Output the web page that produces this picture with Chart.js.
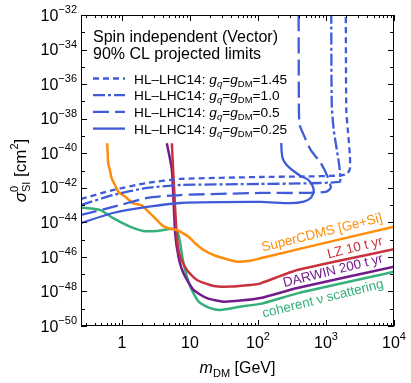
<!DOCTYPE html>
<html>
<head>
<meta charset="utf-8">
<script src="https://cdn.jsdelivr.net/npm/chart.js@4.4.1/dist/chart.umd.min.js"></script>
<style>
  html, body { margin: 0; padding: 0; background: #fff; }
  canvas { display: block; }
</style>
</head>
<body>
<canvas id="dm-chart" width="411" height="383"></canvas>
<script>
// ── Data (mass in GeV, log10 of cross section in cm^2) ──────────
const LHC145_MASS = [0.25, 0.736, 2.34, 7.18, 109, 424, 1650, 2024, 2244, 2244, 2094, 1989, 1955];
const LHC145_LOGSIG = [-42.65, -42.13, -41.72, -41.49, -41.375, -41.35, -41.29, -41.2, -40.91, -40.10, -38.66, -37.5, -32];

const LHC10_MASS = [0.25, 0.736, 2.34, 7.18, 109, 424, 1581, 1637, 1524, 1300, 1216, 1195];
const LHC10_LOGSIG = [-43.0, -42.42, -42.01, -41.84, -41.78, -41.75, -41.66, -41.43, -40.39, -38.66, -37.21, -32];

const LHC05_MASS = [0.25, 0.736, 2.34, 7.18, 109, 424, 991, 1175, 1062, 836, 596, 470, 410, 400, 396];
const LHC05_LOGSIG = [-43.57, -43.11, -42.59, -42.42, -42.30, -42.30, -42.24, -42.01, -41.38, -40.56, -39.81, -38.94, -38.37, -37.5, -32];

const LHC025_MASS = [0.25, 0.736, 2.34, 7.18, 109, 302, 470, 596, 660, 626, 528, 424, 334, 264, 230, 222, 220];
const LHC025_LOGSIG = [-44.04, -43.46, -43.11, -42.88, -42.82, -42.89, -42.80, -42.59, -42.24, -41.84, -41.49, -41.32, -41.03, -40.68, -40.28, -39.81, -39.41];

const CDMS_MASS = [0.607, 0.628, 0.665, 0.705, 0.835, 0.882, 1.107, 1.47, 1.95, 2.44, 3.07, 3.85, 4.82, 6.42, 7.18, 9.52, 11.9, 15.9, 22.3, 35.1, 49.3, 77.4, 109, 424, 10000];
const CDMS_LOGSIG = [-39.42, -40.58, -40.97, -41.45, -42.03, -42.23, -42.51, -42.90, -43.02, -43.38, -43.76, -44.15, -44.34, -44.44, -44.54, -44.83, -45.21, -45.60, -45.89, -46.14, -46.28, -46.22, -46.08, -45.52, -44.25];

const LZ_MASS = [5.42, 5.66, 6.42, 7.18, 9.02, 12.7, 22.3, 39.3, 77.4, 109, 379, 10000];
const LZ_LOGSIG = [-39.42, -40.97, -44.83, -45.99, -46.76, -47.34, -47.68, -47.72, -47.63, -47.53, -46.76, -45.56];

const DARWIN_MASS = [4.57, 5.42, 6.06, 6.78, 8.03, 11.3, 17.8, 31.3, 55.2, 109, 379, 10000];
const DARWIN_LOGSIG = [-39.42, -40.97, -44.63, -45.99, -46.95, -47.91, -48.39, -48.59, -48.53, -48.38, -47.8, -46.57];

const NU_MASS = [0.25, 0.473, 0.744, 1.31, 2.06, 3.25, 5.11, 6.42, 7.18, 8.03, 10.1, 13.4, 19.9, 27.9, 55.2, 109, 379, 10000];
const NU_LOGSIG = [-43.14, -43.28, -43.76, -44.25, -44.50, -44.50, -44.38, -44.44, -45.21, -46.37, -47.72, -48.59, -48.97, -49.07, -48.88, -48.72, -48.11, -46.86];

// ── Ticks ───────────────────────────────────────────────────────
const X_TICKS = [1, 10, 100, 1000, 10000];
const X_TICK_LABELS = [['1', ''], ['10', ''], ['10', '2'], ['10', '3'], ['10', '4']];
const Y_TICK_EXPONENTS = [-32, -34, -36, -38, -40, -42, -44, -46, -48, -50];

// ── Labels ──────────────────────────────────────────────────────
const LEGEND_COUPLINGS = ['1.45', '1.0', '0.5', '0.25'];
const TITLE_LINES = ['Spin independent (Vector)', '90% CL projected limits'];

const FONT = '"Liberation Sans", Arial, Helvetica, sans-serif';
const BLUE = '#3f5bd9';
const ORANGE = '#ff8c0a';
const RED = '#c8323f';
const PURPLE = '#741b8c';
const GREEN = '#35b07c';

const DASH_145 = [6, 4];
const DASH_10 = [12, 3, 3, 3];
const DASH_05 = [16, 6];

function toPoints(mass, logsig) {
  return mass.map((m, i) => ({ x: m, y: Math.pow(10, logsig[i]) }));
}

function line(label, mass, logsig, color, width, dash) {
  return {
    label: label,
    data: toPoints(mass, logsig),
    showLine: true,
    borderColor: color,
    backgroundColor: color,
    borderWidth: width,
    borderDash: dash || [],
    pointRadius: 0,
    tension: 0.2,
    fill: false,
  };
}

// ── Rich text helpers (sub/superscripts) ────────────────────────
function partFont(p) {
  return (p.it ? 'italic ' : '') + p.size + 'px ' + FONT;
}

function measureParts(ctx, parts) {
  let w = 0;
  parts.forEach((p) => {
    ctx.font = partFont(p);
    if (p.stack) {
      p.w = Math.max(ctx.measureText(p.stack[0]).width, ctx.measureText(p.stack[1]).width);
    } else {
      p.w = ctx.measureText(p.t).width;
    }
    w += p.w;
  });
  return w;
}

function drawParts(ctx, parts, x, y, align) {
  const w = measureParts(ctx, parts);
  let cx = align === 'center' ? x - w / 2 : align === 'right' ? x - w : x;
  ctx.textAlign = 'left';
  ctx.textBaseline = 'alphabetic';
  parts.forEach((p) => {
    ctx.font = partFont(p);
    if (p.stack) {
      ctx.fillText(p.stack[0], cx, y + p.dyUp);
      ctx.fillText(p.stack[1], cx, y + p.dyDown);
    } else {
      ctx.fillText(p.t, cx, y + (p.dy || 0));
    }
    cx += p.w;
  });
}

// ── Axis / annotation plugin ────────────────────────────────────
const decorPlugin = {
  id: 'decor',
  beforeDraw(chart) {
    const ctx = chart.ctx;
    ctx.save();
    ctx.fillStyle = '#fff';
    ctx.fillRect(0, 0, chart.width, chart.height);
    ctx.restore();
  },
  afterDraw(chart) {
    const ctx = chart.ctx;
    const xs = chart.scales.x;
    const ys = chart.scales.y;
    const a = chart.chartArea;
    ctx.save();

    // frame
    ctx.strokeStyle = '#000';
    ctx.lineWidth = 1;
    ctx.setLineDash([]);
    ctx.strokeRect(a.left + 0.5, a.top + 0.5, a.right - a.left - 1, a.bottom - a.top - 1);

    // x ticks (log minor 2..9)
    ctx.beginPath();
    for (let e = -1; e <= 4; e++) {
      for (let k = 1; k <= 9; k++) {
        const v = k * Math.pow(10, e);
        if (v < xs.min || v > xs.max) continue;
        const px = Math.round(xs.getPixelForValue(v)) + 0.5;
        const len = k === 1 ? 6 : 3;
        ctx.moveTo(px, a.bottom);
        ctx.lineTo(px, a.bottom - len);
        ctx.moveTo(px, a.top);
        ctx.lineTo(px, a.top + len);
      }
    }
    // y ticks every decade
    for (let e = -50; e <= -32; e++) {
      const py = Math.round(ys.getPixelForValue(Math.pow(10, e))) + 0.5;
      const len = e % 2 === 0 ? 6 : 4;
      ctx.moveTo(a.left, py);
      ctx.lineTo(a.left + len, py);
      ctx.moveTo(a.right, py);
      ctx.lineTo(a.right - len, py);
    }
    ctx.stroke();

    ctx.fillStyle = '#000';
    // x tick labels
    X_TICKS.forEach((v, i) => {
      const px = xs.getPixelForValue(v);
      const lab = X_TICK_LABELS[i];
      const parts = [{ t: lab[0], size: 16 }];
      if (lab[1]) parts.push({ t: lab[1], size: 11, dy: -8 });
      drawParts(ctx, parts, px, 347.5, 'center');
    });
    // y tick labels
    Y_TICK_EXPONENTS.forEach((e) => {
      const py = ys.getPixelForValue(Math.pow(10, e));
      drawParts(ctx, [
        { t: '10', size: 16 },
        { t: '\u2212' + Math.abs(e), size: 11, dy: -7.5 },
      ], 77, py + 5.7, 'right');
    });

    // x title
    drawParts(ctx, [
      { t: 'm', size: 16, it: true },
      { t: 'DM', size: 11, dy: 3.5 },
      { t: ' [GeV]', size: 16 },
    ], (a.left + a.right) / 2, 373, 'center');

    // y title (rotated)
    ctx.save();
    ctx.translate(26, (a.top + a.bottom) / 2);
    ctx.rotate(-Math.PI / 2);
    drawParts(ctx, [
      { t: '\u03c3', size: 17, it: true },
      { stack: ['0', 'SI'], size: 11, dyUp: -8, dyDown: 4 },
      { t: ' [cm', size: 17 },
      { t: '2', size: 11, dy: -8 },
      { t: ']', size: 17 },
    ], 0, 0, 'center');
    ctx.restore();

    // title
    ctx.font = '16px ' + FONT;
    ctx.textAlign = 'left';
    ctx.textBaseline = 'alphabetic';
    ctx.fillText(TITLE_LINES[0], 93, 41.5);
    ctx.fillText(TITLE_LINES[1], 93, 59);

    // legend
    const dashes = [DASH_145, DASH_10, DASH_05, []];
    LEGEND_COUPLINGS.forEach((g, i) => {
      const ly = 78.5 + i * 16.7;
      ctx.strokeStyle = BLUE;
      ctx.lineWidth = 2.3;
      ctx.setLineDash(dashes[i]);
      ctx.beginPath();
      ctx.moveTo(93, ly);
      ctx.lineTo(125, ly);
      ctx.stroke();
      ctx.setLineDash([]);
      ctx.fillStyle = '#000';
      drawParts(ctx, [
        { t: 'HL\u2013LHC14: ', size: 13.7 },
        { t: 'g', size: 13.7, it: true },
        { t: 'q', size: 9.5, it: true, dy: 3 },
        { t: '=', size: 13.7 },
        { t: 'g', size: 13.7, it: true },
        { t: 'DM', size: 9.5, dy: 3 },
        { t: '=' + g, size: 13.7 },
      ], 134, ly + 5, 'left');
    });

    // curve labels
    const rotLabel = (txt, color, cx, cy) => {
      ctx.save();
      ctx.translate(cx, cy);
      ctx.rotate(-14 * Math.PI / 180);
      ctx.fillStyle = color;
      ctx.font = '13.4px ' + FONT;
      ctx.textAlign = 'center';
      ctx.textBaseline = 'middle';
      ctx.fillText(txt, 0, 0);
      ctx.restore();
    };
    rotLabel('SuperCDMS [Ge+Si]', ORANGE, 322, 233);
    rotLabel('LZ 10 t yr', RED, 355, 248);
    rotLabel('DARWIN 200 t yr', PURPLE, 333, 271);
    rotLabel('coherent \u03bd scattering', GREEN, 323, 299);

    ctx.restore();
  },
};

const datasets = [
  line('HL-LHC14 1.45', LHC145_MASS, LHC145_LOGSIG, BLUE, 2.3, DASH_145),
  line('HL-LHC14 1.0', LHC10_MASS, LHC10_LOGSIG, BLUE, 2.3, DASH_10),
  line('HL-LHC14 0.5', LHC05_MASS, LHC05_LOGSIG, BLUE, 2.3, DASH_05),
  line('HL-LHC14 0.25', LHC025_MASS, LHC025_LOGSIG, BLUE, 2.3, null),
  line('SuperCDMS', CDMS_MASS, CDMS_LOGSIG, ORANGE, 2.5, null),
  line('LZ', LZ_MASS, LZ_LOGSIG, RED, 2.5, null),
  line('DARWIN', DARWIN_MASS, DARWIN_LOGSIG, PURPLE, 2.5, null),
  line('coherent nu', NU_MASS, NU_LOGSIG, GREEN, 2.5, null),
];

new Chart(document.getElementById('dm-chart').getContext('2d'), {
  type: 'scatter',
  data: { datasets: datasets },
  options: {
    responsive: false,
    animation: false,
    devicePixelRatio: 1,
    events: [],
    layout: { padding: { left: 81, top: 15, right: 17, bottom: 57 } },
    plugins: { legend: { display: false }, tooltip: { enabled: false } },
    scales: {
      x: { type: 'logarithmic', min: 0.25, max: 10000, display: false },
      y: { type: 'logarithmic', min: 1e-50, max: 1e-32, display: false },
    },
  },
  plugins: [decorPlugin],
});
</script>
</body>
</html>
